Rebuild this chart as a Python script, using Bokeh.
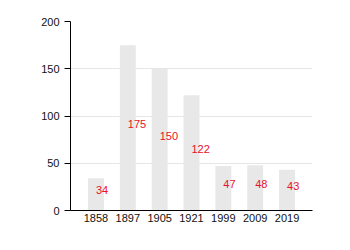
from bokeh.plotting import figure
from bokeh.models import ColumnDataSource, Range1d, FactorRange
from bokeh.core.properties import value
from bokeh.embed import file_html
from bokeh.resources import INLINE

years = ["1858", "1897", "1905", "1921", "1999", "2009", "2019"]
counts = [34, 175, 150, 122, 47, 48, 43]
y_ticks = [0, 50, 100, 150, 200]

src = ColumnDataSource(dict(
    x=years,
    top=counts,
    mid=[c / 2 for c in counts],
    label=[str(c) for c in counts],
))

p = figure(width=350, height=250, output_backend="svg", toolbar_location=None,
           x_range=FactorRange(factors=years, range_padding=0.30, range_padding_units="absolute"),
           y_range=Range1d(0, 200))
p.min_border_left = 70
p.min_border_right = 38
p.min_border_top = 21
p.min_border_bottom = 40
p.outline_line_color = None
p.background_fill_color = "white"
p.border_fill_color = "white"

p.vbar(x="x", top="top", width=0.5, source=src, fill_color="#e8e8e8", line_color=None)
p.text(x="x", y="mid", text="label", source=src, text_color="#e8102a",
       text_font=value("Liberation Sans"), text_font_size="11px",
       text_align="left", text_baseline="middle", y_offset=-4)

p.xgrid.grid_line_color = None
p.ygrid.grid_line_color = "#e6e6e6"
p.ygrid.ticker = y_ticks
p.yaxis.ticker = y_ticks

for ax in (p.xaxis, p.yaxis):
    ax.axis_line_color = "black"
    ax.axis_line_width = 1
    ax.major_label_text_font = "Liberation Sans"
    ax.major_label_text_font_size = "11px"
    ax.major_label_text_color = "#111111"
    ax.minor_tick_line_color = None

p.yaxis.major_tick_out = 6
p.yaxis.major_tick_in = 0
p.yaxis.major_tick_line_color = "black"
p.yaxis.major_label_standoff = 5
p.xaxis.major_tick_line_color = None
p.xaxis.major_tick_out = 0
p.xaxis.major_tick_in = 0
p.xaxis.major_label_standoff = 3

open("out.html", "w").write(file_html(p, INLINE))
